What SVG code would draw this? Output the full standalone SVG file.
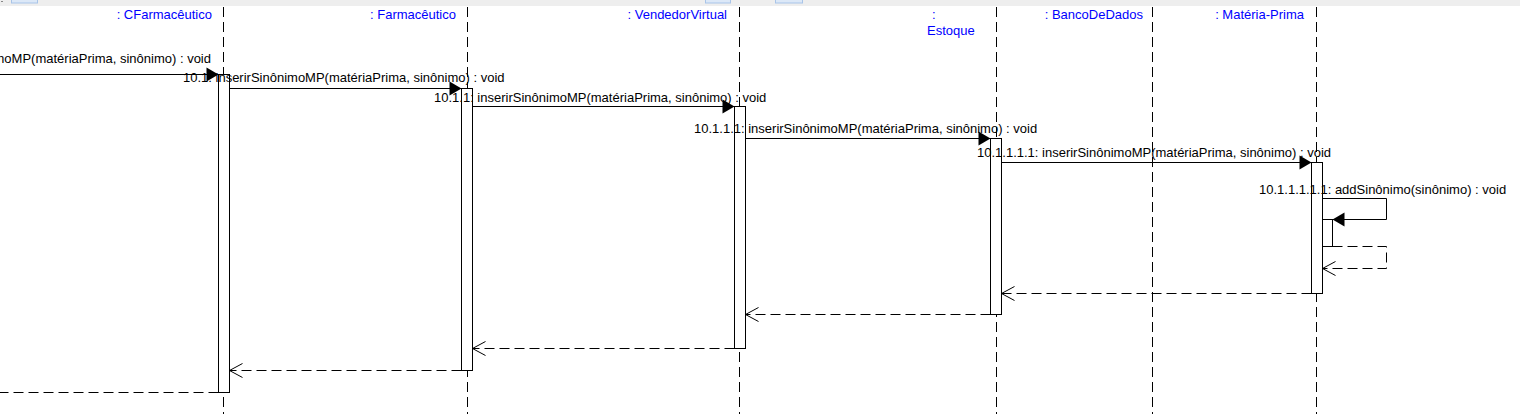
<svg xmlns="http://www.w3.org/2000/svg" width="1520" height="414" viewBox="0 0 1520 414">
<defs>
<style>
.hdr{font-family:"Liberation Sans",Arial,sans-serif;font-size:13px;fill:#0000ff}
.lbl{font-family:"Liberation Sans",Arial,sans-serif;font-size:13px;fill:#000}
.life{stroke:#000;stroke-width:1;stroke-dasharray:10 5;fill:none}
.act{fill:#fff;stroke:#000;stroke-width:1}
.msg{stroke:#000;stroke-width:1;fill:none;marker-end:url(#filled)}
.ret{stroke:#000;stroke-width:1;fill:none;stroke-dasharray:10 5;marker-end:url(#open)}
.tab{fill:#dce8f7;stroke:#a8c4e8;stroke-width:1}
</style>
<marker id="filled" viewBox="-13 -8 14 16" markerWidth="14" markerHeight="16" refX="0" refY="0" orient="auto" markerUnits="userSpaceOnUse">
<path d="M-12,-7 L0,0 L-12,7 z" fill="#000"/>
</marker>
<marker id="open" viewBox="-14 -8 15 16" markerWidth="15" markerHeight="16" refX="0" refY="0" orient="auto" markerUnits="userSpaceOnUse">
<path d="M-13,-7 L0,0 L-13,7" fill="none" stroke="#000" stroke-width="1"/>
</marker>
</defs>
<rect x="0" y="0" width="1520" height="414" fill="#fff"/>
<g id="toolbar">
<rect x="0" y="0" width="1520" height="6" fill="#eeeeee"/>
<rect x="1" y="1" width="2" height="1" fill="#888"/>
<rect x="11.5" y="-1" width="26" height="4" class="tab"/>
<rect x="705.5" y="-1" width="25" height="4" class="tab"/>
<rect x="775.5" y="-1" width="27" height="4" class="tab"/>
</g>
<g id="lifelines">
<line class="life" x1="223.5" y1="7" x2="223.5" y2="414"/>
<line class="life" x1="467.5" y1="7" x2="467.5" y2="414"/>
<line class="life" x1="739.5" y1="7" x2="739.5" y2="414"/>
<line class="life" x1="996.5" y1="7" x2="996.5" y2="414"/>
<line class="life" x1="1152.5" y1="7" x2="1152.5" y2="414"/>
<line class="life" x1="1316.5" y1="7" x2="1316.5" y2="414"/>
</g>
<g id="CFarmaceutico">
<text class="hdr" x="212" y="19" text-anchor="end">: CFarmacêutico</text>
<rect class="act" x="218.5" y="74.5" width="11" height="318"/>
</g>
<g id="Farmaceutico">
<text class="hdr" x="456" y="19" text-anchor="end">: Farmacêutico</text>
<rect class="act" x="461.5" y="88.5" width="11" height="282"/>
</g>
<g id="VendedorVirtual">
<text class="hdr" x="727" y="19" text-anchor="end">: VendedorVirtual</text>
<rect class="act" x="734.5" y="106.5" width="11" height="242"/>
</g>
<g id="Estoque">
<text class="hdr" x="932" y="19">:</text>
<text class="hdr" x="927" y="35">Estoque</text>
<rect class="act" x="990.5" y="138.5" width="11" height="176"/>
</g>
<g id="BancoDeDados">
<text class="hdr" x="1143" y="19" text-anchor="end">: BancoDeDados</text>
</g>
<g id="MateriaPrima">
<text class="hdr" x="1304" y="19" text-anchor="end">: Matéria-Prima</text>
<rect class="act" x="1311.5" y="162.5" width="11" height="131"/>
<rect class="act" x="1322.5" y="219.5" width="10" height="27"/>
</g>
<g id="connectors">
<path class="msg" d="M0,74.5 H218.5"/>
<path class="msg" d="M229.5,88.5 H461.5"/>
<path class="msg" d="M472.5,106.5 H734.5"/>
<path class="msg" d="M745.5,138.5 H990.5"/>
<path class="msg" d="M1001.5,162.5 H1311.5"/>
<path class="msg" d="M1322.5,198.5 H1386.5 V219.5 H1332.5"/>
<path class="ret" d="M1332.5,246.5 H1386.5 V268.5 H1322.5"/>
<path class="ret" d="M1311.5,293.5 H1001.5"/>
<path class="ret" d="M990.5,314.5 H745.5"/>
<path class="ret" d="M734.5,348.5 H472.5"/>
<path class="ret" d="M461.5,370.5 H229.5"/>
<path class="ret" d="M218.5,392.5 H-20" style="marker-end:none"/>
<text class="lbl" x="211" y="63" text-anchor="end">10: inserirSinônimoMP(matériaPrima, sinônimo) : void</text>
<text class="lbl" x="183" y="82">10.1: inserirSinônimoMP(matériaPrima, sinônimo) : void</text>
<text class="lbl" x="434" y="102">10.1.1: inserirSinônimoMP(matériaPrima, sinônimo) : void</text>
<text class="lbl" x="694" y="133">10.1.1.1: inserirSinônimoMP(matériaPrima, sinônimo) : void</text>
<text class="lbl" x="977" y="157">10.1.1.1.1: inserirSinônimoMP(matériaPrima, sinônimo) : void</text>
<text class="lbl" x="1259" y="194">10.1.1.1.1.1: addSinônimo(sinônimo) : void</text>
</g>
</svg>
